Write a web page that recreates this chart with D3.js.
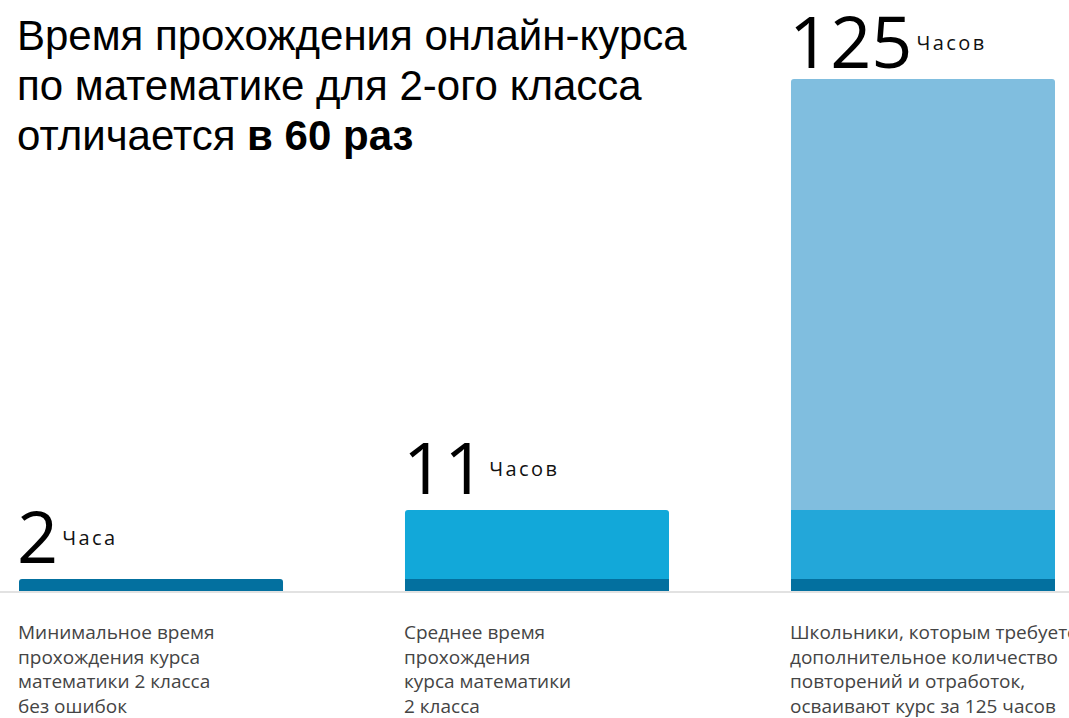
<!DOCTYPE html>
<html>
<head>
<meta charset="utf-8">
<script src="https://cdn.jsdelivr.net/npm/d3@7"></script>
<style>
  html, body { margin: 0; padding: 0; background: #fff; }
  svg { display: block; }
  .title { font-family: "Liberation Sans", Arial, sans-serif; font-size: 42px; fill: #000; }
  .num { font-family: "Open Sans", sans-serif; font-weight: 400; font-size: 72px; fill: #000; }
  .unit { font-family: "Open Sans", sans-serif; font-size: 20px; letter-spacing: 2.4px; fill: #111; }
  .caption { font-family: "Open Sans", sans-serif; font-size: 19px; fill: #444; }
</style>
</head>
<body>
<svg id="chart"></svg>
<script>
// data
const categories = ['min', 'avg', 'max'];
const hours = [2, 11, 125];
const units = ['Часа', 'Часов', 'Часов'];
const captions = [
  ['Минимальное время', 'прохождения курса', 'математики 2 класса', 'без ошибок'],
  ['Среднее время', 'прохождения', 'курса математики', '2 класса'],
  ['Школьники, которым требуется', 'дополнительное количество', 'повторений и отработок,', 'осваивают курс за 125 часов']
];
const titleLines = [
  [{ t: 'Время прохождения онлайн-курса' }],
  [{ t: 'по математике для 2-ого класса' }],
  [{ t: 'отличается ' }, { t: 'в 60 раз', bold: true }]
];

const W = 1069, H = 718;
const baseY = 591;

const svg = d3.select('#chart').attr('width', W).attr('height', H);

// bars are not to linear scale in the original, so use a piecewise scale
const y = d3.scaleLinear()
  .domain([0, hours[0], hours[1], hours[2]])
  .range([baseY, 579, 510, 79]);

const x = d3.scaleBand()
  .domain(categories)
  .range([19, 1055])
  .paddingInner(0.316)
  .paddingOuter(0);

// segment colours: [bar][segment]
const segColors = [
  ['#03709f'],
  ['#03709f', '#12a8d9'],
  ['#03709f', '#23a7d9', '#80bedf']
];

// baseline
svg.append('line')
  .attr('x1', 0).attr('x2', W)
  .attr('y1', baseY + 1).attr('y2', baseY + 1)
  .attr('stroke', '#e2e2e2').attr('stroke-width', 2);

function topRounded(x0, y0, w, h, r) {
  return `M${x0},${y0 + h}V${y0 + r}Q${x0},${y0} ${x0 + r},${y0}H${x0 + w - r}Q${x0 + w},${y0} ${x0 + w},${y0 + r}V${y0 + h}Z`;
}

categories.forEach((c, i) => {
  const g = svg.append('g');
  const bx = x(c), bw = x.bandwidth();
  // stacked segments: 0..hours[0], hours[0]..hours[1], ...
  const segs = hours.slice(0, i + 1).map((v, k) => ({ from: k === 0 ? 0 : hours[k - 1], to: v, k }));
  segs.forEach(s => {
    const y0 = y(s.to), y1 = y(s.from);
    const isTop = s.k === i;
    if (isTop) {
      g.append('path')
        .attr('d', topRounded(bx, y0, bw, y1 - y0, 3))
        .attr('fill', segColors[i][s.k]);
    } else {
      g.append('rect')
        .attr('x', bx).attr('y', y0)
        .attr('width', bw).attr('height', y1 - y0)
        .attr('fill', segColors[i][s.k]);
    }
  });

  // value label
  const topY = y(hours[i]);
  const numBase = topY - (i === 2 ? 11 : 16);
  const num = g.append('text')
    .attr('class', 'num')
    .attr('x', bx - 2)
    .attr('y', numBase)
    .text(hours[i]);
  const nb = num.node().getBBox();
  g.append('text')
    .attr('class', 'unit')
    .attr('x', nb.x + nb.width + 4)
    .attr('y', numBase - 18)
    .text(units[i]);

  // caption
  const cap = g.append('text')
    .attr('class', 'caption')
    .attr('x', bx - 1)
    .attr('y', 639);
  cap.selectAll('tspan')
    .data(captions[i])
    .join('tspan')
    .attr('x', bx - 1)
    .attr('dy', (d, j) => j === 0 ? 0 : 24.6)
    .text(d => d);
});

// title
const title = svg.append('text')
  .attr('class', 'title')
  .attr('x', 17)
  .attr('y', 50);
titleLines.forEach((line, li) => {
  line.forEach((part, pi) => {
    const ts = title.append('tspan')
      .attr('font-weight', part.bold ? 'bold' : null)
      .text(part.t);
    if (pi === 0) ts.attr('x', 17).attr('dy', li === 0 ? 0 : 50);
  });
});
</script>
</body>
</html>
